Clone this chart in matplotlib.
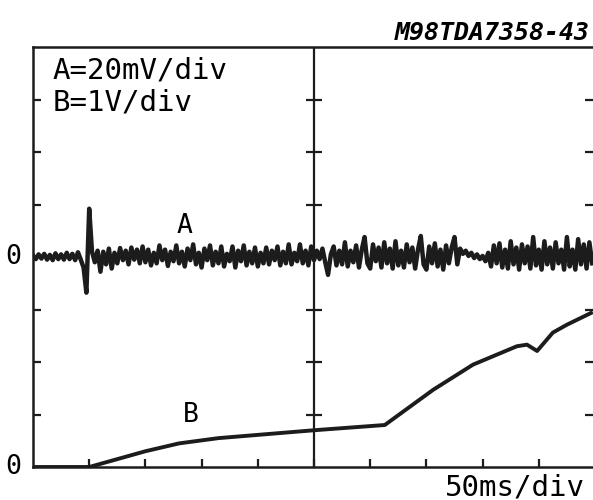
import numpy as np
import matplotlib
matplotlib.use("Agg")
import matplotlib.pyplot as plt

# trace A: sampled every 0.05 div, value in divisions around its own zero (div 4)
a_step = 0.05
a_vals = [0.03, -0.04, 0.05, -0.03, 0.06, -0.05, 0.04, -0.06, 0.07, -0.04,
          0.05, -0.05, 0.08, -0.04, 0.06, -0.06, 0.09, -0.05, -0.20, -0.68,
          0.92, 0.10, -0.10, 0.12, -0.28, 0.10, -0.14, 0.16, -0.22, 0.08,
          -0.12, 0.17, -0.06, 0.12, -0.14, 0.18, -0.05, 0.14, -0.12, 0.20,
          -0.10, 0.14, -0.16, 0.08, -0.12, 0.22, -0.06, 0.14, -0.17, 0.10,
          -0.08, 0.22, -0.12, 0.10, -0.18, 0.16, -0.06, 0.24, -0.14, 0.08,
          -0.20, 0.16, -0.06, 0.22, -0.16, 0.10, -0.12, 0.20, -0.18, 0.06,
          -0.08, 0.20, -0.20, 0.12, -0.08, 0.22, -0.16, 0.10, -0.12, 0.18,
          -0.18, 0.08, -0.12, 0.18, -0.14, 0.12, -0.06, 0.20, -0.16, 0.10,
          -0.12, 0.24, -0.14, 0.08, -0.08, 0.24, -0.12, 0.12, -0.16, 0.20,
          -0.06, 0.12, -0.04, 0.16, -0.10, -0.34, 0.05, 0.20, -0.16, 0.12,
          -0.14, 0.28, -0.18, 0.12, -0.10, 0.22, -0.20, 0.14, 0.38, -0.12,
          -0.22, 0.24, -0.08, 0.18, -0.20, 0.28, -0.12, 0.16, -0.22, 0.30,
          -0.16, 0.12, -0.20, 0.24, -0.10, 0.18, -0.22, 0.14, 0.40, -0.14,
          -0.24, 0.20, -0.12, 0.26, -0.18, 0.14, -0.24, 0.22, -0.12, 0.18,
          0.38, -0.14, 0.16, 0.06, 0.12, 0.02, 0.08, -0.02, 0.05, -0.04,
          0.02, -0.08, 0.08, -0.18, 0.22, -0.12, 0.26, -0.20, 0.14, -0.22,
          0.30, -0.14, 0.18, -0.24, 0.24, -0.12, 0.20, -0.22, 0.38, -0.16,
          0.14, -0.24, 0.30, -0.14, 0.18, -0.22, 0.28, -0.12, 0.14, -0.24,
          0.38, -0.18, 0.14, -0.24, 0.34, -0.14, 0.24, -0.22, 0.28, -0.12]
a_zero = 4

# trace B: (time in div, value in div)
b_t = [0.0, 1.0, 2.0, 2.6, 3.3, 5.0, 6.26, 7.12, 7.83, 8.61, 8.79, 8.97, 9.25, 9.5, 9.96]
b_v = [0.0, 0.0, 0.30, 0.45, 0.55, 0.70, 0.80, 1.47, 1.95, 2.30, 2.33, 2.21, 2.56, 2.71, 2.95]

ink = '#1c1c1c'

fig = plt.figure(figsize=(5.93, 5.0), dpi=100)
ax = fig.add_axes([33 / 593, 33 / 500, 560 / 593, 420 / 500])
ax.set_xlim(0, 560 / 56.2)
ax.set_ylim(0, 8)

for s in ['left', 'bottom', 'top']:
    ax.spines[s].set_linewidth(1.8)
    ax.spines[s].set_color(ink)
ax.spines['right'].set_visible(False)

ax.set_xticks(range(1, 10))
ax.set_yticks(range(1, 8))
ax.set_xticklabels([])
ax.set_yticklabels([])
ax.tick_params(direction='in', length=6, width=1.6, color=ink)
ax.tick_params(axis='y', left=True, right=True)
ax.tick_params(axis='x', top=False)

# centre graticule line with cross ticks
ax.axvline(5, color=ink, lw=1.6)
ax.plot([5] * 7, list(range(1, 8)), ls='none', marker='_', ms=12, mew=1.6, color=ink)

a_t = np.arange(len(a_vals)) * a_step
ax.plot(a_t, np.array(a_vals) + a_zero, color=ink, lw=3.2)
ax.plot(b_t, b_v, color=ink, lw=2.8, solid_capstyle='butt')

mono = 'DejaVu Sans Mono'
ax.text(0.35, 7.55, 'A=20mV/div', family=mono, fontsize=21, va='center', ha='left')
ax.text(0.35, 6.95, 'B=1V/div', family=mono, fontsize=21, va='center', ha='left')
ax.text(2.7, 4.6, 'A', family=mono, fontsize=19, va='center', ha='center')
ax.text(2.8, 1.0, 'B', family=mono, fontsize=19, va='center', ha='center')
ax.text(-0.36, 4, '0', family=mono, fontsize=19, va='center', ha='center')
ax.text(-0.36, 0, '0', family=mono, fontsize=19, va='center', ha='center')

fig.text(585 / 593, 1 - 487 / 500, '50ms/div', family=mono, fontsize=21, va='center', ha='right')
fig.text(590 / 593, 1 - 33 / 500, 'M98TDA7358-43', family=mono, fontsize=18,
         fontweight='bold', fontstyle='italic', va='center', ha='right')

fig.savefig('out.png', dpi=100)
